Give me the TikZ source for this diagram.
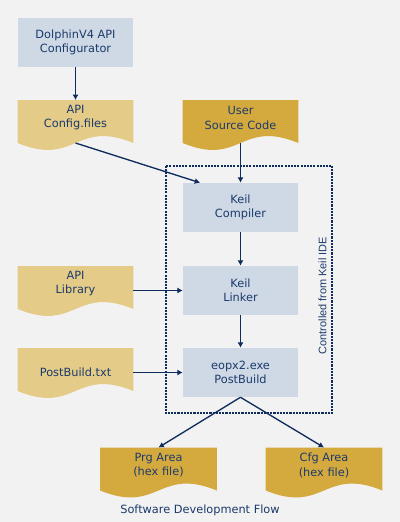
\documentclass[tikz,border=0pt]{standalone}
\usepackage{fontspec}
\setmainfont{DejaVu Sans}
\newfontfamily\ideFont{Liberation Sans}
\usetikzlibrary{arrows.meta,calc,backgrounds}
\definecolor{bgGray}{HTML}{F2F2F2}
\definecolor{boxBlue}{HTML}{CED9E5}
\definecolor{docPale}{HTML}{E4CB88}
\definecolor{docGold}{HTML}{D4AA3F}
\definecolor{inkNavy}{HTML}{1B3A6B}
\definecolor{lineNavy}{HTML}{0F2D5C}

\begin{document}
\begin{tikzpicture}[
  x=0.75pt, y=-0.75pt,
  txt/.style={text=inkNavy, align=center, font=\fontsize{8.5}{10.8}\selectfont},
  box/.style={txt, fill=boxBlue, minimum width=86.25pt, minimum height=36.75pt, inner sep=0pt},
  doc/.style={txt, anchor=north, minimum width=86.25pt, minimum height=26.25pt, inner sep=0pt},
  arr/.style={-{Latex[length=4pt,width=4.5pt]}, line width=1pt, draw=lineNavy},
  idebox/.style={draw=lineNavy, line width=1.3pt, dash pattern=on 1.6pt off 0.8pt},
]
  \useasboundingbox (0,0) rectangle (400,522);

  % Left column
  \node[box] (conf) at (75.5,42.5) {DolphinV4 API\\Configurator};
  \node[doc] (cfgf) at (75.5,100) {API\\Config.files};
  \node[doc] (lib) at (75.5,266) {API\\Library};
  \node[doc, minimum height=36.75pt] (pbt) at (75.5,348) {PostBuild.txt};

  % Keil tool chain
  \node[doc] (src) at (240.5,100) {User\\Source Code};
  \node[box] (comp) at (240.5,207.5) {Keil\\Compiler};
  \node[box] (link) at (240.5,290.5) {Keil\\Linker};
  \node[box] (post) at (240.5,372.5) {eopx2.exe\\PostBuild};

  % Output files
  \node[doc, minimum width=87pt] (prg) at (158.5,447.5) {Prg Area\\(hex file)};
  \node[doc, minimum width=87pt] (cfa) at (324,447.5) {Cfg Area\\(hex file)};

  \node[txt] (cap) at (200,510) {Software Development Flow};

  % IDE frame
  \draw[idebox] ($(comp.north west)+(-17,-17)$) rectangle ($(post.south east)+(34,16)$);
  \node[text=inkNavy, font=\ideFont\fontsize{8.2}{9.6}\selectfont, rotate=90] (ide) at (322.5,295.5) {Controlled from Keil IDE};

  % Background and wavy documents
  \begin{scope}[on background layer]
    \fill[bgGray] (0,0) rectangle (400,522);
    \foreach \n/\c in {cfgf/docPale, lib/docPale, pbt/docPale, src/docGold, prg/docGold, cfa/docGold}
      \fill[\c] (\n.north west) -- (\n.north east) -- ($(\n.north east)+(0,43)$)
        .. controls ($(\n.north)+(0,19)$) and ($(\n.north)+(0,67)$) .. ($(\n.north west)+(0,43)$) -- cycle;
  \end{scope}

  % Edges
  \draw[arr] (conf.south) -- (cfgf.north);
  \draw[arr] ($(cfgf.north)+(0,43)$) -- ($(comp.north west)!0.15!(comp.north east)$);
  \draw[arr] ($(src.north)+(0,43)$) -- (comp.north);
  \draw[arr] (comp) -- (link);
  \draw[arr] (link) -- (post);
  \draw[arr] (lib.east |- link.west) -- (link.west);
  \draw[arr] (pbt.east |- post.west) -- (post.west);
  \draw[arr] (post.south) -- (prg.north);
  \draw[arr] (post.south) -- (cfa.north);
\end{tikzpicture}
\end{document}
